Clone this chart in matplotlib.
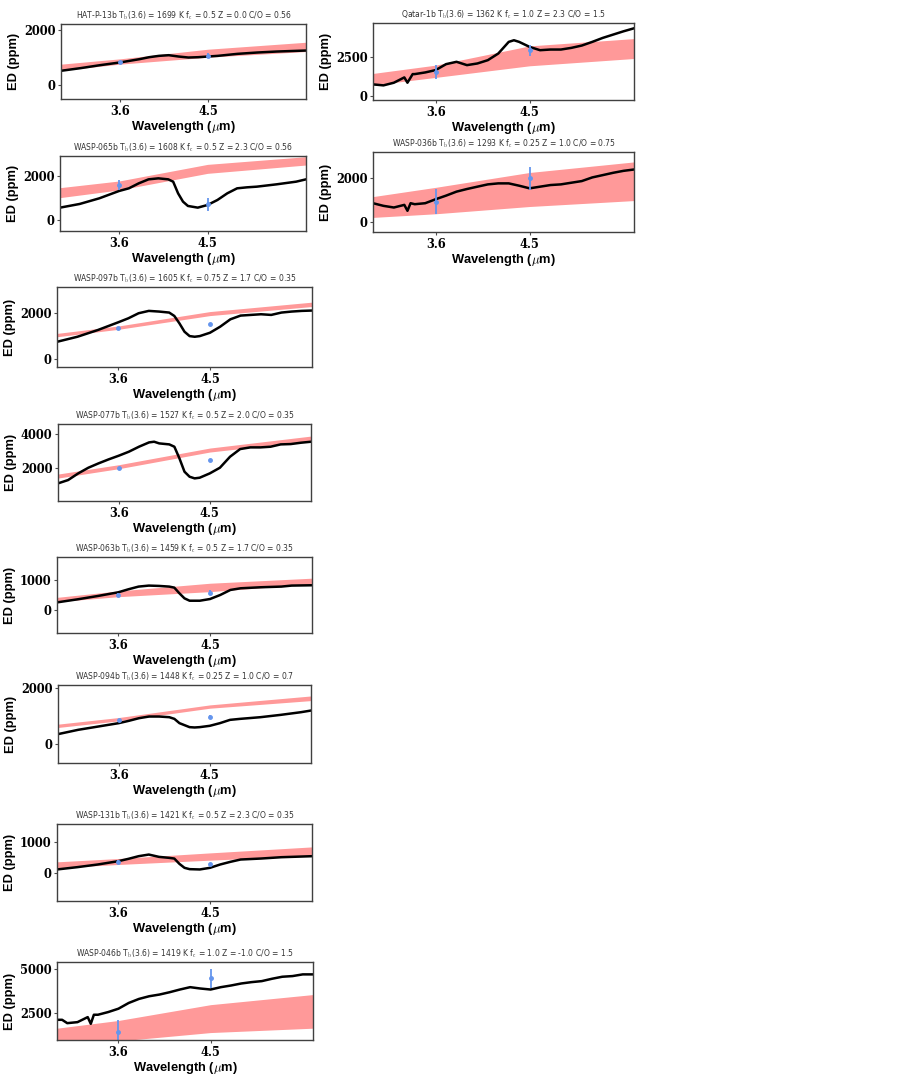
import numpy as np
import matplotlib
matplotlib.use("Agg")
import matplotlib.pyplot as plt

plt.rcParams['mathtext.fontset'] = 'cm'

# ---- panel metadata ----
planets = ['HAT-P-13b', 'Qatar-1b', 'WASP-065b', 'WASP-036b', 'WASP-097b',
           'WASP-077b', 'WASP-063b', 'WASP-094b', 'WASP-131b', 'WASP-046b']
tb_vals = [1699, 1362, 1608, 1293, 1605, 1527, 1459, 1448, 1421, 1419]
fc_vals = ['0.5', '1.0', '0.5', '0.25', '0.75', '0.5', '0.5', '0.25', '0.5', '1.0']
z_vals = ['0.0', '2.3', '2.3', '1.0', '1.7', '2.0', '1.7', '1.0', '2.3', '-1.0']
co_vals = ['0.56', '1.5', '0.56', '0.75', '0.35', '0.35', '0.35', '0.7', '0.35', '1.5']
yticks_list = [[0, 2000], [0, 2500], [0, 2000], [0, 2000], [0, 2000],
               [2000, 4000], [0, 1000], [0, 2000], [0, 1000], [2500, 5000]]
ylims = [(-490, 2215), (-260, 4740), (-500, 2890), (-450, 3165), (-336, 3140),
         (80, 4610), (-756, 1756), (-695, 2120), (-914, 1581), (960, 5420)]
xticks = [3.6, 4.5]

# ---- model spectra (black lines) ----
hat13_wl = [3.0, 3.2, 3.4, 3.6, 3.8, 3.9, 4.0, 4.1, 4.15, 4.2, 4.3, 4.4, 4.5, 4.6, 4.8, 5.0, 5.2, 5.4, 5.5]
hat13_ed = [527, 623, 731, 827, 946, 1018, 1066, 1090, 1066, 1042, 1006, 1018, 1042, 1066, 1138, 1186, 1222, 1246, 1258]

qatar1_wl = [3.0, 3.1, 3.2, 3.3, 3.33, 3.38, 3.4, 3.5, 3.6, 3.7, 3.8, 3.9, 4.0, 4.1, 4.2, 4.3, 4.35,
             4.4, 4.5, 4.6, 4.7, 4.8, 4.9, 5.0, 5.1, 5.2, 5.3, 5.4, 5.5]
qatar1_ed = [754, 690, 862, 1207, 862, 1422, 1422, 1530, 1681, 2069, 2220, 2004, 2112, 2327, 2758, 3513, 3620,
             3513, 3189, 2974, 3017, 3017, 3125, 3276, 3513, 3771, 3987, 4202, 4396]

w65_wl = [3.0, 3.2, 3.4, 3.6, 3.7, 3.8, 3.9, 4.0, 4.1, 4.15, 4.2, 4.25, 4.3, 4.4, 4.5, 4.6, 4.7, 4.8, 4.9,
          5.0, 5.2, 5.4, 5.5]
w65_ed = [556, 722, 978, 1308, 1429, 1654, 1835, 1880, 1835, 1730, 1203, 827, 632, 556, 677, 902, 1203, 1429, 1474,
          1504, 1609, 1730, 1835]

w36_wl = [3.0, 3.1, 3.2, 3.3, 3.33, 3.36, 3.4, 3.5, 3.6, 3.7, 3.8, 3.9, 4.0, 4.1, 4.2, 4.3, 4.4, 4.5,
          4.6, 4.7, 4.8, 4.9, 5.0, 5.1, 5.2, 5.3, 5.4, 5.5]
w36_ed = [851, 732, 657, 776, 508, 851, 806, 851, 1030, 1194, 1374, 1493, 1598, 1702, 1747, 1747, 1642, 1523,
          1598, 1672, 1702, 1777, 1851, 2016, 2120, 2225, 2314, 2374]

w97_wl = [3.0, 3.2, 3.4, 3.6, 3.7, 3.8, 3.9, 4.0, 4.1, 4.15, 4.2, 4.25, 4.3, 4.35, 4.4, 4.5, 4.6, 4.7,
          4.8, 4.9, 5.0, 5.1, 5.2, 5.3, 5.4, 5.5]
w97_ed = [759, 978, 1270, 1606, 1781, 2000, 2102, 2073, 2029, 1883, 1562, 1197, 1007, 978, 1007, 1153, 1416, 1737,
          1898, 1927, 1956, 1927, 2029, 2073, 2102, 2117]

w77_wl = [3.0, 3.1, 3.2, 3.3, 3.4, 3.5, 3.6, 3.7, 3.8, 3.9, 3.95, 4.0, 4.1, 4.15, 4.2, 4.25, 4.3, 4.35, 4.4,
          4.5, 4.6, 4.7, 4.8, 4.9, 5.0, 5.1, 5.2, 5.3, 5.4, 5.5]
w77_ed = [1117, 1313, 1705, 2038, 2293, 2528, 2744, 2979, 3273, 3528, 3567, 3469, 3410, 3273, 2587, 1803, 1509, 1411,
          1450, 1705, 2038, 2685, 3136, 3234, 3234, 3273, 3410, 3430, 3508, 3567]

w63_wl = [3.0, 3.2, 3.4, 3.6, 3.7, 3.8, 3.9, 4.0, 4.1, 4.15, 4.2, 4.25, 4.3, 4.4, 4.5, 4.6, 4.7, 4.8,
          5.0, 5.2, 5.3, 5.5]
w63_ed = [256, 356, 467, 589, 689, 778, 811, 800, 778, 744, 556, 389, 311, 311, 367, 500, 667, 722,
          756, 778, 811, 822]

w94_wl = [3.0, 3.2, 3.4, 3.6, 3.7, 3.8, 3.9, 4.0, 4.1, 4.15, 4.2, 4.3, 4.35, 4.4, 4.5, 4.6, 4.7, 4.8,
          5.0, 5.2, 5.4, 5.5]
w94_ed = [347, 503, 623, 743, 827, 922, 982, 982, 958, 898, 743, 599, 587, 599, 647, 743, 862, 898,
          958, 1042, 1138, 1198]

w131_wl = [3.0, 3.2, 3.4, 3.6, 3.7, 3.8, 3.9, 4.0, 4.1, 4.15, 4.2, 4.25, 4.3, 4.4, 4.5, 4.6, 4.7, 4.8,
           5.0, 5.2, 5.5]
w131_ed = [108, 183, 269, 376, 452, 538, 591, 516, 484, 462, 290, 161, 118, 108, 161, 269, 355, 430,
           462, 505, 538]

w46_wl = [3.0, 3.05, 3.1, 3.2, 3.3, 3.33, 3.36, 3.4, 3.5, 3.6, 3.7, 3.8, 3.9, 4.0, 4.1, 4.2, 4.3, 4.4,
          4.5, 4.6, 4.7, 4.8, 4.9, 5.0, 5.1, 5.2, 5.3, 5.4, 5.5]
w46_ed = [2115, 2115, 1923, 1981, 2269, 1885, 2404, 2404, 2558, 2750, 3077, 3308, 3462, 3558, 3692, 3846, 3981, 3904,
          3846, 3981, 4077, 4192, 4269, 4327, 4462, 4577, 4615, 4712, 4712]

# ---- retrieved range (pink bands), at band_wl nodes ----
band_wl = [3.0, 3.6, 4.5, 5.5]
hat13_lo, hat13_hi = [539, 767, 1018, 1222], [767, 958, 1306, 1557]
qatar1_lo, qatar1_hi = [711, 1207, 1961, 2435], [1465, 2004, 3254, 3728]
w65_lo, w65_hi = [1008, 1354, 2106, 2482], [1459, 1760, 2512, 2858]
w36_lo, w36_hi = [209, 373, 702, 970], [1150, 1568, 2240, 2717]
w97_lo, w97_hi = [978, 1300, 1898, 2292], [1124, 1445, 2073, 2482]
w77_lo, w77_hi = [1430, 1980, 2960, 3626], [1665, 2215, 3195, 3900]
w63_lo, w63_hi = [278, 444, 611, 867], [422, 633, 889, 1056]
w94_lo, w94_hi = [587, 826, 1282, 1557], [707, 946, 1402, 1725]
w131_lo, w131_hi = [161, 269, 409, 559], [355, 462, 645, 839]
w46_lo, w46_hi = [600, 900, 1385, 1635], [1635, 2077, 2981, 3558]

# ---- Spitzer eclipse depths at 3.6 and 4.5 um ----
obs_wl = [3.6, 4.5]
hat13_obs, hat13_err = [839, 1078], [40, 90]
qatar1_obs, qatar1_err = [1573, 2974], [450, 345]
w65_obs, w65_err = [1579, 707], [225, 300]
w36_obs, w36_err = [926, 1971], [580, 510]
w97_obs, w97_err = [1343, 1533], [50, 50]
w77_obs, w77_err = [2038, 2489], [60, 60]
w63_obs, w63_err = [500, 578], [50, 80]
w94_obs, w94_err = [863, 982], [40, 60]
w131_obs, w131_err = [355, 290], [50, 40]
w46_obs, w46_err = [1404, 4481], [680, 550]

model_wl = [hat13_wl, qatar1_wl, w65_wl, w36_wl, w97_wl, w77_wl, w63_wl, w94_wl, w131_wl, w46_wl]
model_ed = [hat13_ed, qatar1_ed, w65_ed, w36_ed, w97_ed, w77_ed, w63_ed, w94_ed, w131_ed, w46_ed]
band_lo = [hat13_lo, qatar1_lo, w65_lo, w36_lo, w97_lo, w77_lo, w63_lo, w94_lo, w131_lo, w46_lo]
band_hi = [hat13_hi, qatar1_hi, w65_hi, w36_hi, w97_hi, w77_hi, w63_hi, w94_hi, w131_hi, w46_hi]
obs_ed = [hat13_obs, qatar1_obs, w65_obs, w36_obs, w97_obs, w77_obs, w63_obs, w94_obs, w131_obs, w46_obs]
obs_err = [hat13_err, qatar1_err, w65_err, w36_err, w97_err, w77_err, w63_err, w94_err, w131_err, w46_err]

# axes boxes in pixels: left, top, right, bottom
W, H = 907, 1078
boxes = [(61, 24, 306, 99), (373, 23, 634, 100),
         (60, 156, 306, 231), (373, 152, 634, 232),
         (57, 287, 312, 367), (58, 424, 311, 501),
         (57, 557, 312, 633), (58, 685, 311, 763),
         (57, 824, 312, 901), (57, 962, 313, 1040)]

fig = plt.figure(figsize=(W / 100, H / 100), dpi=100)

tick_font = dict(family='DejaVu Serif', weight='bold', size=8.3)
lab_font = dict(family='Liberation Sans', weight='bold', size=9.3)

for i in range(len(planets)):
    l, t, r, b = boxes[i]
    ax = fig.add_axes([l / W, 1 - b / H, (r - l) / W, (b - t) / H])
    ax.fill_between(band_wl, band_lo[i], band_hi[i], color='red', alpha=0.4, lw=0)
    ax.plot(model_wl[i], model_ed[i], color='black', lw=1.8)
    ax.errorbar(obs_wl, obs_ed[i], yerr=obs_err[i], fmt='o', color='cornflowerblue',
                ms=2.5, elinewidth=1.3, capsize=0)
    ax.set_xlim(3.0, 5.5)
    ax.set_ylim(*ylims[i])
    ax.set_xticks(xticks)
    ax.set_xticklabels([str(v) for v in xticks], fontdict=tick_font)
    ax.set_yticks(yticks_list[i])
    ax.set_yticklabels([str(v) for v in yticks_list[i]], fontdict=tick_font)
    ax.tick_params(length=2, width=0.8, pad=2, color='0.3')
    for s in ax.spines.values():
        s.set_color('0.25')
        s.set_linewidth(1.0)
    ax.set_xlabel(r'Wavelength ($\mu$m)', fontdict=lab_font, labelpad=1)
    ax.set_ylabel('ED (ppm)', fontdict=lab_font, labelpad=3)
    ax.set_title(r'%s T$_\mathrm{b}$(3.6) = %d K f$_\mathrm{c}$ = %s Z = %s C/O = %s'
                 % (planets[i], tb_vals[i], fc_vals[i], z_vals[i], co_vals[i]),
                 fontsize=5.5, pad=4, color='0.2')

fig.savefig('out.png', dpi=100)
